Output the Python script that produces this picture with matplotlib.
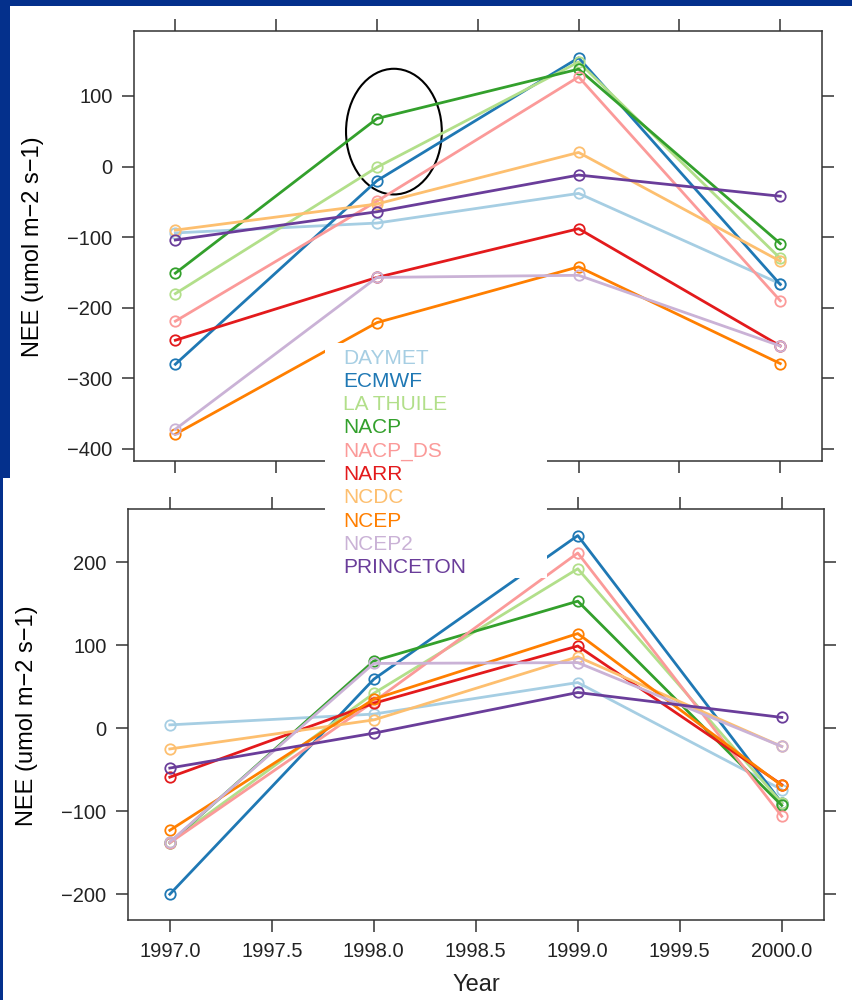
import matplotlib
matplotlib.use('Agg')
import matplotlib.pyplot as plt
from matplotlib.patches import Rectangle, Ellipse

plt.rcParams['font.family'] = ['Liberation Sans', 'DejaVu Sans']

# NEE by forcing product, two sites
years = [1997, 1998, 1999, 2000]
products = ['DAYMET', 'ECMWF', 'LA THUILE', 'NACP', 'NACP_DS',
            'NARR', 'NCDC', 'NCEP', 'NCEP2', 'PRINCETON']
colors = ['#A6CEE3', '#1F78B4', '#B2DF8A', '#33A02C', '#FB9A99',
          '#E31A1C', '#FDBF6F', '#FF7F00', '#CAB2D6', '#6A3D9A']

nee_top = [
  [-94, -80, -38, -166],
  [-280, -20, 154, -167],
  [-180, -1, 148, -130],
  [-151, 68, 138, -109],
  [-219, -49, 127, -190],
  [-246, -157, -88, -254],
  [-90, -53, 20, -134],
  [-379, -221, -142, -279],
  [-372, -157, -154, -254],
  [-104, -64, -12, -42],
]

nee_bottom = [
  [4, 17, 55, -74],
  [-200, 59, 232, -90],
  [-137, 42, 192, -90],
  [-138, 81, 153, -93],
  [-138, 32, 211, -106],
  [-59, 30, 99, -68],
  [-25, 10, 86, -22],
  [-123, 35, 114, -69],
  [-137, 78, 79, -22],
  [-48, -6, 43, 13],
]

top_yticks = [-400, -300, -200, -100, 0, 100]
bottom_yticks = [-200, -100, 0, 100, 200]
xticks = [1997.0, 1997.5, 1998.0, 1998.5, 1999.0, 1999.5, 2000.0]

W, H = 852, 1000
slide_blue = '#04308c'
ink = '#222222'


def fx(px):
  return px / W

def fy(px):
  return 1.0 - px / H


def draw_panel(ax, data, yticks, ylim, show_xlabels):
  for i in range(len(products)):
    ax.plot(years, data[i], color=colors[i], lw=2.0, marker='o', ms=7.5,
            mfc='none', mec=colors[i], mew=1.3)
  ax.set_xlim(1996.795, 2000.207)
  ax.set_ylim(ylim)
  ax.set_xticks(xticks)
  ax.set_xticklabels(['%.1f' % t for t in xticks])
  ax.set_yticks(yticks)
  for s in ax.spines.values():
    s.set_color('#333333')
    s.set_linewidth(1.1)
  ax.tick_params(direction='out', length=8.5, width=1.1, color='#333333',
                 top=True, right=True, labeltop=False, labelright=False,
                 labelbottom=show_xlabels, labelsize=14.5, labelcolor=ink,
                 pad=7)


fig = plt.figure(figsize=(W / 100.0, H / 100.0), dpi=100)
fig.patch.set_facecolor(slide_blue)

# white slide areas behind the two plots
fig.patches.append(Rectangle((fx(10), fy(478)), 1 - fx(10), fy(6) - fy(478),
                             transform=fig.transFigure, fc='white', ec='none', zorder=-2))
fig.patches.append(Rectangle((fx(3), 0), 1 - fx(3), fy(478),
                             transform=fig.transFigure, fc='white', ec='none', zorder=-2))

ax1 = fig.add_axes([fx(134), fy(461), fx(822) - fx(134), fy(31) - fy(461)])
draw_panel(ax1, nee_top, top_yticks, (-417, 192), False)
ax1.add_patch(Ellipse((1998.084, 49.5), 0.475, 178, fill=False, ec='black', lw=1.5))

ax2 = fig.add_axes([fx(128), fy(920), fx(824) - fx(128), fy(509) - fy(920)])
draw_panel(ax2, nee_bottom, bottom_yticks, (-231, 264), True)

ylab = 'NEE (umol m\u22122 s\u22121)'
fig.text(fx(33), fy(247), ylab, rotation=90, ha='center', va='center',
         fontsize=17, color='black')
fig.text(fx(27), fy(716), ylab, rotation=90, ha='center', va='center',
         fontsize=17, color='black')
fig.text(fx(476), fy(985), 'Year', ha='center', va='center', fontsize=17, color=ink)

# legend pasted over both panels
fig.patches.append(Rectangle((fx(325), fy(578)), fx(547) - fx(325), fy(343) - fy(578),
                             transform=fig.transFigure, fc='white', ec='none', zorder=5))
for i in range(len(products)):
  fig.text(fx(343), fy(358 + 23.3 * i), products[i], color=colors[i],
           ha='left', va='center', fontsize=15, zorder=6)

fig.savefig('out.png', dpi=100, facecolor=fig.get_facecolor())
